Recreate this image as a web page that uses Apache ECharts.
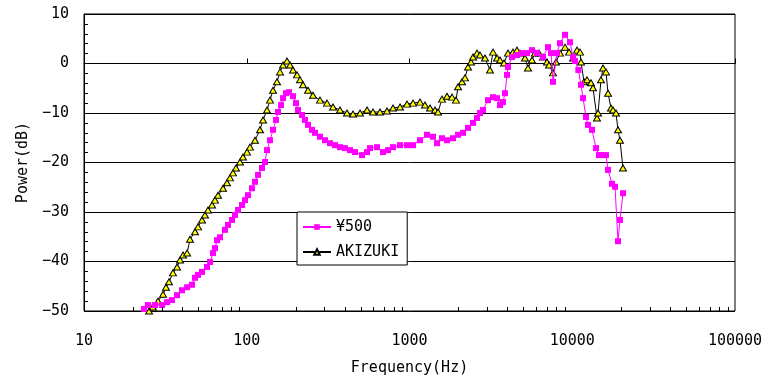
<!DOCTYPE html>
<html>
<head>
<meta charset="utf-8">
<script src="https://cdn.jsdelivr.net/npm/echarts@6/dist/echarts.min.js"></script>
<style>html,body{margin:0;padding:0;background:#fff}#c{width:769px;height:382px}</style>
</head>
<body>
<div id="c"></div>
<script>
// ¥500 series: frequency (Hz) and power (dB)
const yen500Freq = [23.4,24.7,27.3,30.2,32.4,34.7,37.3,40.0,43.0,46.1,48.1,50.2,53.1,57.0,59.5,62.0,63.8,65.7,68.5,73.5,76.7,81.2,84.7,88.4,93.5,97.6,101.8,107.7,112.4,117.3,124.1,129.5,133.2,139.0,145.0,151.2,155.6,162.4,167.1,174.3,181.8,192.4,200.7,206.5,218.5,228.0,237.9,251.7,262.7,281.9,302.6,324.8,348.5,374.1,401.6,430.9,462.5,510.9,548.2,571.9,631.5,687.4,737.8,791.9,874.5,965.3,1051,1160,1281,1395,1476,1584,1700,1851,1987,2132,2288,2456,2599,2712,2829,3036,3260,3450,3599,3754,3862,3973,4030,4264,4576,4912,5272,5657,6072,6612,7098,7406,7616,8061,8410,9026,9688,10110,10400,10900,11320,11650,12150,12500,13220,14000,14600,15240,16120,16590,17550,18310,19100,19650,20500];
const yen500Power = [-49.6,-48.8,-48.8,-48.8,-48.2,-47.8,-46.8,-45.8,-45.2,-44.7,-43.3,-42.7,-42.1,-41.1,-40.1,-38.3,-37.3,-35.7,-35.1,-33.6,-32.6,-31.6,-30.6,-29.6,-28.6,-27.6,-26.6,-25.2,-23.9,-22.5,-21.1,-19.9,-17.5,-15.5,-13.4,-11.4,-9.8,-8.4,-7.0,-6.0,-5.8,-6.6,-8.0,-9.4,-10.4,-11.4,-12.4,-13.4,-14.0,-14.8,-15.5,-16.1,-16.5,-16.9,-17.1,-17.5,-17.9,-18.5,-17.9,-17.1,-16.9,-17.9,-17.5,-16.9,-16.5,-16.5,-16.5,-15.5,-14.4,-14.8,-16.1,-15.1,-15.5,-15.1,-14.4,-14.0,-13.0,-12.0,-11.0,-10.0,-9.4,-7.4,-6.8,-7.0,-8.4,-7.8,-6.0,-2.3,-0.7,1.3,1.7,2.1,2.1,2.7,2.1,1.3,3.3,2.1,-3.7,2.1,4.1,5.8,4.3,1.3,0.5,-1.3,-4.3,-7.0,-10.8,-12.4,-13.4,-17.1,-18.5,-18.5,-18.5,-21.5,-24.3,-24.9,-35.9,-31.6,-26.2];

// AKIZUKI series: frequency (Hz) and power (dB)
const akizukiFreq = [25.1,26.5,28.5,30.6,31.9,33.3,35.2,37.3,38.9,40.6,43.0,44.8,48.1,50.2,53.1,55.4,57.8,61.2,63.8,66.6,71.5,75.6,78.9,82.3,85.9,90.9,94.8,100.4,104.7,112.4,120.6,125.9,133.2,139.0,145.0,153.4,160.1,167.1,176.7,184.4,192.4,203.6,212.4,221.6,237.9,255.3,281.9,311.3,338.9,374.1,413.1,449.6,496.6,548.2,596.7,658.8,727.4,791.9,874.5,965.3,1051,1160,1245,1337,1435,1497,1584,1700,1825,1931,1987,2102,2193,2288,2387,2456,2599,2712,2910,3123,3260,3450,3599,3808,4030,4325,4576,4775,5126,5347,5657,5903,6246,6612,6998,7199,7616,7947,8410,9026,9553,10110,10700,11160,11320,11810,12320,13040,13410,14190,14400,15020,15450,16120,16590,17300,17800,18570,19100,19650,20500];
const akizukiPower = [-50.0,-49.2,-48.0,-46.6,-45.2,-44.1,-42.3,-41.1,-39.7,-38.7,-38.3,-35.5,-34.0,-33.0,-31.6,-30.6,-29.6,-28.6,-27.6,-26.6,-25.2,-24.1,-23.1,-22.1,-21.1,-19.9,-18.9,-17.9,-16.9,-15.5,-13.4,-11.4,-9.4,-7.4,-5.4,-3.7,-1.7,-0.3,0.5,-0.3,-1.3,-2.3,-3.3,-4.3,-5.4,-6.4,-7.4,-8.0,-8.8,-9.4,-10.0,-10.2,-10.0,-9.4,-9.8,-9.8,-9.6,-9.0,-8.8,-8.2,-8.0,-7.8,-8.4,-9.0,-9.4,-9.8,-7.2,-6.6,-6.8,-7.4,-4.7,-3.7,-2.9,-0.7,0.3,1.3,2.1,1.7,1.1,-1.3,2.3,1.1,0.7,0.1,2.1,2.3,2.7,2.1,1.1,-0.9,0.7,2.1,2.1,1.3,0.3,-0.3,-1.9,0.3,2.1,3.3,2.3,1.1,2.7,2.3,0.3,-3.7,-3.3,-3.9,-4.9,-11.0,-10.0,-3.3,-0.9,-1.7,-6.0,-9.0,-9.4,-10.0,-13.4,-15.5,-21.1];

// axis ticks
const xTickLabels = [10, 100, 1000, 10000, 100000];
const xMinorTicks = [20,30,40,50,60,70,80,90,200,300,400,500,600,700,800,900,2000,3000,4000,5000,6000,7000,8000,9000,20000,30000,40000,50000,60000,70000,80000,90000];
const yMin = -50, yMax = 10, yStep = 10;

const FONT = '"DejaVu Sans Mono", monospace';
const chart = echarts.init(document.getElementById('c'), null, {renderer: 'canvas'});
const zip = (a, b) => a.map((v, i) => [v, b[i]]);

chart.setOption({
  animation: false,
  backgroundColor: '#fff',
  textStyle: {fontFamily: FONT, color: '#000'},
  grid: {left: 84, top: 14, right: 34, bottom: 71, show: true, borderColor: '#000', borderWidth: 1, containLabel: false},
  legend: {
    orient: 'vertical', left: 297, top: 212,
    backgroundColor: '#fff', borderColor: '#000', borderWidth: 1,
    padding: [6, 8, 4, 5], itemGap: 7, itemWidth: 28, itemHeight: 7,
    textStyle: {fontFamily: FONT, fontSize: 15, color: '#000', lineHeight: 18},
    data: ['¥500', 'AKIZUKI']
  },
  xAxis: {
    type: 'log', logBase: 10, min: 10, max: 100000,
    name: 'Frequency(Hz)', nameLocation: 'middle', nameGap: 50,
    nameTextStyle: {fontFamily: FONT, fontSize: 15, color: '#000'},
    axisLine: {show: true, lineStyle: {color: '#000', width: 1}},
    axisTick: {show: true, inside: true, length: 5, lineStyle: {color: '#000'}},
    axisLabel: {margin: 23, fontFamily: FONT, fontSize: 15, color: '#000',
      formatter: v => (xTickLabels.indexOf(Math.round(v)) >= 0 ? String(Math.round(v)) : '')},
    splitLine: {show: false}
  },
  yAxis: {
    type: 'value', min: yMin, max: yMax, interval: yStep,
    name: 'Power(dB)', nameLocation: 'middle', nameGap: 53, nameRotate: 90,
    nameTextStyle: {fontFamily: FONT, fontSize: 15, color: '#000'},
    axisLine: {show: true, lineStyle: {color: '#000', width: 1}},
    axisTick: {show: true, inside: true, length: 4, lineStyle: {color: '#000'}},
    minorTick: {show: true, splitNumber: 5, length: 4, lineStyle: {color: '#000'}},
    axisLabel: {margin: 15, fontFamily: FONT, fontSize: 15, color: '#000',
      formatter: v => String(v).replace('-', '\u2212')},
    splitLine: {show: true, lineStyle: {color: '#000', width: 1}}
  },
  series: [
    {
      name: '¥500', type: 'line', data: zip(yen500Freq, yen500Power), z: 4,
      symbol: 'rect', symbolSize: 6, showAllSymbol: true,
      lineStyle: {color: '#FF00FF', width: 1},
      itemStyle: {color: '#FF00FF', borderWidth: 0}
    },
    {
      name: 'AKIZUKI', type: 'line', data: zip(akizukiFreq, akizukiPower), z: 3,
      symbol: 'triangle', symbolSize: [7, 6], showAllSymbol: true,
      lineStyle: {color: '#000', width: 1},
      itemStyle: {color: '#FFFF00', borderColor: '#000', borderWidth: 1}
    },
    {
      type: 'custom', silent: true, z: 5,
      data: xMinorTicks.map(v => [v, yMin]),
      renderItem: (params, api) => {
        const p = api.coord([api.value(0), api.value(1)]);
        const x = Math.round(p[0]) + 0.5;
        return {type: 'line', shape: {x1: x, y1: p[1], x2: x, y2: p[1] - 4}, style: {stroke: '#000', lineWidth: 1}};
      }
    }
  ]
});
</script>
</body>
</html>
